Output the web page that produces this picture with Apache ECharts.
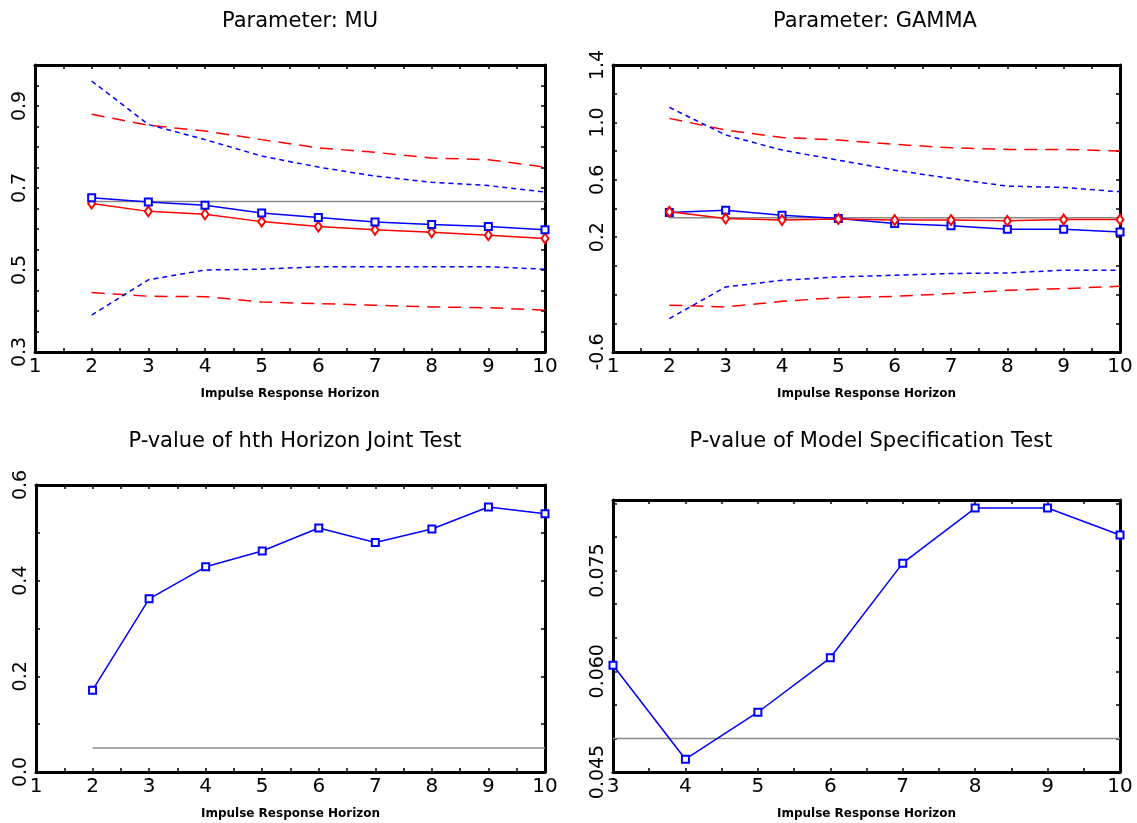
<!DOCTYPE html>
<html>
<head>
<meta charset="utf-8">
<script src="https://cdn.jsdelivr.net/npm/echarts@6/dist/echarts.min.js"></script>
<style>
  html, body { margin: 0; padding: 0; background: #fff; }
  #chart { width: 1137px; height: 823px; }
</style>
</head>
<body>
<div id="chart"></div>
<script>
// horizons
const horizons = [2, 3, 4, 5, 6, 7, 8, 9, 10];
const specHorizons = [3, 4, 5, 6, 7, 8, 9, 10];

// Parameter: MU
const muBlue = [0.676, 0.666, 0.658, 0.639, 0.628, 0.617, 0.611, 0.606, 0.598];
const muRed = [0.662, 0.643, 0.636, 0.618, 0.606, 0.598, 0.592, 0.585, 0.577];
const muBlueUpper = [0.961, 0.855, 0.818, 0.778, 0.751, 0.729, 0.714, 0.706, 0.690];
const muBlueLower = [0.390, 0.476, 0.500, 0.502, 0.508, 0.508, 0.508, 0.508, 0.502];
const muRedUpper = [0.880, 0.853, 0.839, 0.818, 0.798, 0.787, 0.773, 0.769, 0.751];
const muRedLower = [0.445, 0.436, 0.435, 0.422, 0.418, 0.414, 0.410, 0.408, 0.402];
const muTrue = 0.667;

// Parameter: GAMMA
const gammaBlue = [0.372, 0.388, 0.353, 0.330, 0.295, 0.279, 0.256, 0.256, 0.237];
const gammaRed = [0.377, 0.330, 0.319, 0.326, 0.319, 0.319, 0.314, 0.323, 0.323];
const gammaBlueUpper = [1.105, 0.912, 0.807, 0.737, 0.667, 0.609, 0.556, 0.547, 0.516];
const gammaBlueLower = [-0.367, -0.147, -0.100, -0.077, -0.065, -0.053, -0.049, -0.030, -0.030];
const gammaRedUpper = [1.028, 0.947, 0.895, 0.877, 0.847, 0.823, 0.812, 0.812, 0.800];
const gammaRedLower = [-0.274, -0.286, -0.247, -0.221, -0.212, -0.193, -0.170, -0.158, -0.142];
const gammaTrue = 0.335;

// p-values
const pJoint = [0.171, 0.362, 0.429, 0.462, 0.510, 0.480, 0.508, 0.554, 0.540];
const pSpec = [0.0609, 0.0469, 0.0539, 0.0620, 0.0761, 0.0843, 0.0843, 0.0803];
const pLevel = 0.05;

// tick labels
const xLabels = ["1", "2", "3", "4", "5", "6", "7", "8", "9", "10"];
const muTicks = ["0.3", "0.5", "0.7", "0.9"];
const gammaTicks = ["-0.6", "0.2", "0.6", "1.0", "1.4"];
const jointTicks = ["0.0", "0.2", "0.4", "0.6"];
const specTicks = ["0.045", "0.060", "0.075"];

const FONT = "DejaVu Sans";
const BLUE = "#0000ff";
const RED = "#ff0000";
const GREY = "#8a8a8a";

const grids = [
  { left: 35, top: 65, width: 510, height: 287 },
  { left: 613, top: 65, width: 507, height: 287 },
  { left: 36, top: 485, width: 509, height: 287 },
  { left: 613, top: 500, width: 507, height: 272 },
];

const xRanges = [[1, 10], [1, 10], [1, 10], [3, 10]];
const yRanges = [[0.3, 1.0, 0.05], [-0.6, 1.4, 0.2], [0, 0.6, 0.1], [0.045, 0.0855, 0.005]];
const yTickSets = [muTicks, gammaTicks, jointTicks, specTicks];

function pick(labels) {
  return (v) => {
    const hit = labels.find((l) => Math.abs(parseFloat(l) - v) < 1e-9);
    return hit === undefined ? "" : hit;
  };
}

const frame = { onZero: false, lineStyle: { color: "#000", width: 3 } };
const ticks = { inside: true, length: 4, lineStyle: { color: "#000", width: 1.5 } };

const xAxes = [];
const yAxes = [];
[0, 1].forEach((mirror) => {
  grids.forEach((g, i) => {
    xAxes.push({
      type: "value", gridIndex: i, min: xRanges[i][0], max: xRanges[i][1], interval: 0.5,
      position: mirror ? "top" : "bottom",
      axisLine: frame, axisTick: ticks, splitLine: { show: false },
      axisLabel: mirror ? { show: false } : {
        formatter: pick(xLabels), fontSize: 20, color: "#000", fontFamily: FONT, margin: 5,
      },
      name: mirror ? "" : "Impulse Response Horizon",
      nameLocation: "middle", nameGap: 36,
      nameTextStyle: { fontSize: 12, fontWeight: "bold", color: "#000", fontFamily: FONT },
    });
    yAxes.push({
      type: "value", gridIndex: i, min: yRanges[i][0], max: yRanges[i][1], interval: yRanges[i][2],
      position: mirror ? "right" : "left",
      axisLine: frame, axisTick: ticks, splitLine: { show: false },
      axisLabel: mirror ? { show: false } : {
        formatter: pick(yTickSets[i]), rotate: 90, fontSize: 19, color: "#000", fontFamily: FONT, margin: 5,
      },
    });
  });
});

function pairs(xs, ys) { return xs.map((x, i) => [x, ys[i]]); }
function flat(xs, v) { return xs.map((x) => [x, v]); }

function line(i, data, color, opts) {
  return Object.assign({
    type: "line", xAxisIndex: i, yAxisIndex: i, data: data,
    symbol: "none", silent: true,
    lineStyle: { color: color, width: 1.5 },
    itemStyle: { color: color, borderWidth: 1.5 },
  }, opts || {});
}

const dashRed = { lineStyle: { color: RED, width: 1.5, type: [13, 8] } };
const dashBlue = { lineStyle: { color: BLUE, width: 1.5, type: [5, 4] } };
const squares = { symbol: "emptyRect", symbolSize: 7 };
const diamonds = { symbol: "emptyDiamond", symbolSize: [7, 10] };

const series = [
  line(0, flat(horizons, muTrue), GREY),
  line(0, pairs(horizons, muRedUpper), RED, dashRed),
  line(0, pairs(horizons, muRedLower), RED, dashRed),
  line(0, pairs(horizons, muBlueUpper), BLUE, dashBlue),
  line(0, pairs(horizons, muBlueLower), BLUE, dashBlue),
  line(0, pairs(horizons, muRed), RED, diamonds),
  line(0, pairs(horizons, muBlue), BLUE, squares),

  line(1, flat(horizons, gammaTrue), GREY),
  line(1, pairs(horizons, gammaRedUpper), RED, dashRed),
  line(1, pairs(horizons, gammaRedLower), RED, dashRed),
  line(1, pairs(horizons, gammaBlueUpper), BLUE, dashBlue),
  line(1, pairs(horizons, gammaBlueLower), BLUE, dashBlue),
  line(1, pairs(horizons, gammaBlue), BLUE, squares),
  line(1, pairs(horizons, gammaRed), RED, diamonds),

  line(2, flat(horizons, pLevel), GREY),
  line(2, pairs(horizons, pJoint), BLUE, squares),

  line(3, flat(specHorizons, pLevel), GREY),
  line(3, pairs(specHorizons, pSpec), BLUE, squares),
];

const titleStyle = { fontSize: 21, fontWeight: "normal", color: "#000", fontFamily: FONT };
const titles = [
  { text: "Parameter: MU", left: 295, top: 6 },
  { text: "Parameter: GAMMA", left: 870, top: 6 },
  { text: "P-value of hth Horizon Joint Test", left: 290, top: 426 },
  { text: "P-value of Model Specification Test", left: 866, top: 426 },
].map((t) => Object.assign({ textAlign: "center", textStyle: titleStyle }, t));

const chart = echarts.init(document.getElementById("chart"));
chart.setOption({
  backgroundColor: "#ffffff",
  animation: false,
  title: titles,
  grid: grids,
  xAxis: xAxes,
  yAxis: yAxes,
  series: series,
});
</script>
</body>
</html>
